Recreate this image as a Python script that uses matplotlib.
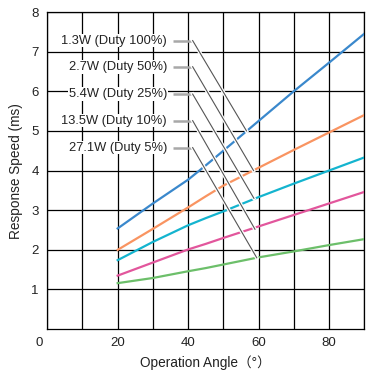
import matplotlib
matplotlib.use('Agg')
import matplotlib.pyplot as plt
import matplotlib.patheffects as pe
import matplotlib.transforms as mtransforms

plt.rcParams['font.family'] = ['Liberation Sans', 'Noto Sans CJK JP', 'DejaVu Sans']
plt.rcParams['font.size'] = 9

# datos
angulos = [20, 30, 40, 45, 50, 60, 70, 80, 90]
w_1_3 = [2.54, 3.17, 3.77, 4.13, 4.50, 5.25, 6.00, 6.72, 7.45]
w_2_7 = [2.00, 2.53, 3.07, 3.35, 3.62, 4.07, 4.52, 4.96, 5.40]
w_5_4 = [1.74, 2.20, 2.62, 2.80, 2.97, 3.33, 3.67, 4.00, 4.33]
w_13_5 = [1.35, 1.68, 2.01, 2.15, 2.30, 2.59, 2.88, 3.17, 3.46]
w_27_1 = [1.16, 1.29, 1.46, 1.54, 1.63, 1.81, 1.96, 2.12, 2.27]

etiquetas = ['1.3W (Duty 100%)', '2.7W (Duty 50%)', '5.4W (Duty 25%)',
             '13.5W (Duty 10%)', '27.1W (Duty 5%)']
etiqueta_y = [7.28, 6.62, 5.93, 5.26, 4.58]
# punto donde la linea guia toca cada curva
guia_x = [56.6, 58.6, 58.7, 59.0, 59.5]
guia_y = [5.0, 4.0, 3.3, 2.52, 1.8]

series = [w_1_3, w_2_7, w_5_4, w_13_5, w_27_1]
colores = ['#3a88cc', '#f99461', '#14b4cf', '#e2569c', '#6cbf6a']

fig = plt.figure(figsize=(3.75, 3.77), dpi=100)
ax = fig.add_axes([0.126, 0.127, 0.845, 0.841])

for vals, c in zip(series, colores):
    ax.plot(angulos, vals, color=c, lw=1.6, zorder=3)

halo = [pe.withStroke(linewidth=2.6, foreground='white')]
for lab, ly, gx, gy in zip(etiquetas, etiqueta_y, guia_x, guia_y):
    ax.text(34.0, ly, lab, ha='right', va='center', fontsize=9.3, color='#222222',
            zorder=6, bbox=dict(facecolor='white', edgecolor='none', pad=0.6))
    ax.plot([35.6, 41.3], [ly, ly], color='#a8a8a8', lw=1.8, zorder=5,
            solid_capstyle='butt')
    ax.plot([41.3, gx], [ly, gy], color='#555555', lw=0.8, zorder=5,
            path_effects=halo)

ax.set_xlim(0, 90)
ax.set_ylim(0, 8)
ax.set_xticks(range(0, 91, 10), minor=True)
ax.set_xticks([0, 20, 40, 60, 80])
ax.set_yticks(range(1, 9))
ax.grid(True, which='both', color='#000000', lw=0.9, zorder=1)
ax.set_axisbelow(True)
ax.tick_params(which='both', length=0, pad=6, labelsize=9.5, colors='#222222')
for s in ax.spines.values():
    s.set_color('#000000')
    s.set_linewidth(0.9)

# el "0" va en la esquina
lbl0 = ax.get_xticklabels()[0]
lbl0.set_transform(lbl0.get_transform() +
                   mtransforms.ScaledTranslation(-0.08, 0, fig.dpi_scale_trans))

ax.set_xlabel('Operation Angle（°）', fontsize=9.8, labelpad=4, color='#222222')
ax.set_ylabel('Response Speed (ms)', fontsize=9.8, labelpad=6, color='#222222')

plt.savefig('out.png', dpi=100)
